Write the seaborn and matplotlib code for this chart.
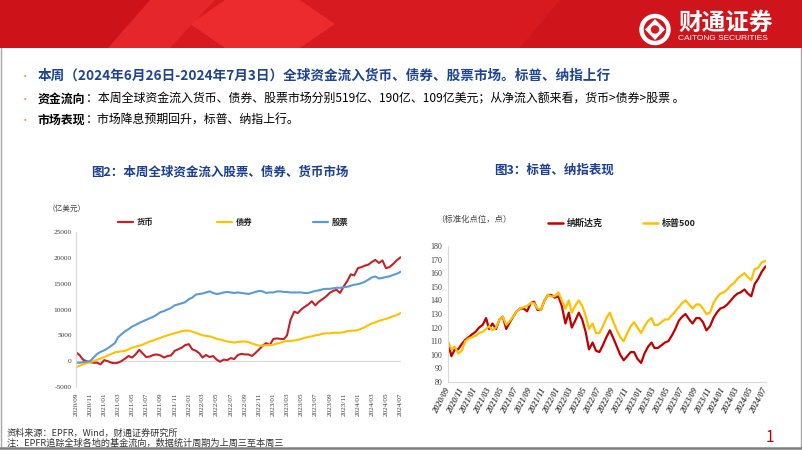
import numpy as np
import pandas as pd
import matplotlib
matplotlib.use("Agg")
import matplotlib.pyplot as plt
from matplotlib.patches import Polygon, Rectangle, Circle
import seaborn as sns

# ---------------- data ----------------
months = pd.period_range("2020-09", "2024-06", freq="M")
dates = [m.to_timestamp() + pd.Timedelta(days=d) for m in months for d in (0, 15)]
dates.append(pd.Timestamp("2024-07-03"))

flow_money = [1700, 1200, 300, 0, -200, -300, -300, -600, 200, 0, -300, -400,
              -300, 0, 500, 1000, 700, 1300, 2200, 1500, 800, 900, 1200, 1300,
              1100, 700, 1000, 1100, 2000, 2300, 2600, 3100, 3300, 2300, 2000, 1500,
              700, 1200, 800, 1000, 300, -100, 300, 200, 600, 400, 1200, 1400,
              1300, 1300, 1000, 1600, 2300, 3000, 3500, 3100, 4300, 4400, 4300, 4300,
              5000, 8000, 9600, 9300, 10000, 10500, 11000, 11600, 10800, 11500, 12000, 12500,
              13200, 13600, 13800, 13200, 14500, 15500, 16800, 16600, 18000, 18200, 18500, 18700,
              19200, 19600, 19000, 19500, 18000, 18200, 18800, 19500, 20100]
flow_bond = [-1200, -900, -600, -400, -200, 0, 300, 500, 800, 1100, 1400, 1700,
             1800, 1900, 2000, 2300, 2600, 2800, 3000, 3200, 3500, 3800, 4000, 4300,
             4500, 4800, 5000, 5200, 5400, 5600, 5800, 5900, 5900, 5700, 5500, 5200,
             5000, 4900, 4800, 4600, 4300, 4200, 4000, 3800, 3700, 3600, 3700, 3800,
             3800, 3700, 3400, 3200, 3000, 3000, 3100, 3100, 3200, 3400, 3600, 3800,
             3900, 3900, 4000, 4100, 4300, 4500, 4700, 4800, 5000, 5100, 5300, 5400,
             5400, 5500, 5500, 5500, 5600, 5800, 5900, 5900, 6000, 6300, 6600, 7000,
             7300, 7500, 7800, 8000, 8200, 8400, 8700, 8900, 9300]
flow_equity = [-300, -300, -200, -100, 0, 700, 1400, 1800, 2100, 2500, 3000, 3500,
               4600, 5200, 5800, 6200, 6700, 7000, 7400, 7700, 8000, 8300, 8600, 9000,
               9500, 9700, 10000, 10300, 10800, 11000, 11200, 11400, 12000, 12300, 12900, 13000,
               13100, 13300, 13500, 13200, 13000, 13100, 13300, 13400, 13300, 13200, 13300, 13200,
               13100, 13000, 13200, 13400, 13600, 13500, 13200, 13300, 13300, 13500, 13500, 13400,
               13400, 13300, 13300, 13300, 13300, 13200, 13200, 13400, 13600, 13700, 13900, 14000,
               14000, 14100, 14200, 14200, 14300, 14400, 14600, 14800, 14900, 15100, 15400, 15800,
               16200, 16400, 16000, 16100, 16300, 16400, 16700, 16900, 17300]

nasdaq = [109, 99, 104, 104, 108, 111, 113, 115, 117, 120, 122, 127,
          119, 123, 119, 126, 128, 119, 124, 128, 132, 134, 134, 132,
          138, 139, 133, 133, 140, 144, 144, 142, 143, 136, 123, 131,
          120, 125, 131, 126, 117, 104, 109, 103, 102, 107, 113, 118,
          112, 106, 100, 96, 99, 102, 102, 97, 94, 101, 106, 109,
          105, 105, 107, 109, 110, 114, 119, 125, 128, 130, 126, 123,
          127, 127, 124, 118, 121, 127, 131, 134, 135, 137, 140, 143,
          145, 146, 148, 145, 143, 152, 156, 161, 165]
sp500 = [110, 104, 106, 101, 103, 110, 112, 113, 114, 116, 117, 119,
         121, 118, 120, 126, 128, 122, 125, 128, 132, 134, 135, 136,
         138, 138, 134, 133, 140, 144, 143, 143, 146, 140, 134, 140,
         131, 136, 140, 136, 129, 119, 123, 116, 116, 121, 127, 131,
         124, 118, 113, 110, 116, 121, 124, 120, 116, 121, 125, 127,
         122, 122, 124, 126, 126, 129, 132, 135, 138, 140, 137, 134,
         137, 137, 134, 130, 131, 138, 142, 145, 146, 148, 151, 153,
         156, 158, 160, 157, 155, 163, 164, 168, 169]

flow_names = ["货币", "债券", "股票"]
index_names = ["纳斯达克", "标普500"]

tick_dates = pd.date_range("2020-09-01", "2024-07-01", freq="2MS")
tick_labels = [d.strftime("%Y/%m") for d in tick_dates]

df_flow = pd.DataFrame({
    "date": dates * 3,
    "value": flow_money + flow_bond + flow_equity,
    "series": [flow_names[0]] * len(dates) + [flow_names[1]] * len(dates) + [flow_names[2]] * len(dates),
})
df_idx = pd.DataFrame({
    "date": dates * 2,
    "value": nasdaq + sp500,
    "series": [index_names[0]] * len(dates) + [index_names[1]] * len(dates),
})

# ---------------- style ----------------
sns.set_theme(style="white")
plt.rcParams["font.family"] = ["Noto Sans CJK SC", "DejaVu Sans"]
plt.rcParams["axes.unicode_minus"] = False

RED_L = "#C42129"
RED_R = "#C00000"
YEL = "#FFC000"
BLU = "#5B9BD5"
GRID = "#D9D9D9"
TITLE_BLUE = "#1D4391"

W, H = 802, 451
fig = plt.figure(figsize=(W / 100, H / 100), dpi=100)

bg = fig.add_axes([0, 0, 1, 1], zorder=0)
bg.set_xlim(0, W)
bg.set_ylim(H, 0)
bg.axis("off")

# banner
bg.add_patch(Rectangle((0, 0), W, 48, color="#D71920", lw=0))
bg.add_patch(Polygon([(0, 0), (150, 0), (110, 48), (0, 48)], closed=True, color="#CE1219", lw=0))
bg.add_patch(Polygon([(150, 0), (215, 0), (170, 48), (108, 48)], closed=True, color="#E5262A", lw=0))
bg.add_patch(Polygon([(190, 24), (225, 0), (300, 0), (335, 24), (300, 48), (225, 48)], closed=True, color="#EC2B2E", lw=0))
bg.add_patch(Polygon([(560, 0), (W, 0), (W, 48), (520, 48)], closed=True, color="#CF141B", lw=0))
# logo
bg.add_patch(Circle((655, 29.5), 13.5, fill=False, ec="white", lw=3.2))
bg.add_patch(Polygon([(655, 19), (665, 29.5), (655, 40), (645, 29.5)], closed=True, color="white", lw=0))
bg.add_patch(Circle((655, 29.5), 4.2, color="#D71920", lw=0))
bg.text(678, 22.5, "财通证券", color="white", fontsize=17, fontweight="bold", va="center", ha="left")
bg.text(678, 38.5, "CAITONG SECURITIES", color="white", fontsize=6, va="center", ha="left",
        family=["Liberation Sans", "DejaVu Sans"])

# borders
bg.plot([1, 1], [48, 447], color="#A6A6A6", lw=1)
bg.plot([800.5, 800.5], [48, 447], color="#A6A6A6", lw=1)
bg.plot([0, W], [447.5, 447.5], color="#7F7F7F", lw=1.8)

# header text
for yy in (77, 100, 121):
    bg.text(25, yy, "•", color="#EE9A5E", fontsize=7.5, va="center", ha="center")
bg.text(38, 76, "本周（2024年6月26日-2024年7月3日）全球资金流入货币、债券、股票市场。标普、纳指上行",
        fontsize=9.8, fontweight="bold", color=TITLE_BLUE, va="center")
fs2 = 8.6
em = fs2 / 72 * 100
bg.text(38, 99, "资金流向", fontsize=fs2, fontweight="bold", color="black", va="center")
bg.text(38 + 4 * em, 99, "：本周全球资金流入货币、债券、股票市场分别519亿、190亿、109亿美元；从净流入额来看，货币>债券>股票 。",
        fontsize=fs2, color="black", va="center")
bg.text(38, 120, "市场表现", fontsize=fs2, fontweight="bold", color="black", va="center")
bg.text(38 + 4 * em, 120, "：市场降息预期回升，标普、纳指上行。", fontsize=fs2, color="black", va="center")

# section titles
bg.text(91, 172, "图2：本周全球资金流入股票、债券、货币市场", fontsize=9, fontweight="bold",
        color="#1B3F8E", va="center")
bg.text(494, 170, "图3：标普、纳指表现", fontsize=9, fontweight="bold", color="#1B3F8E", va="center")

# left chart labels / legend
bg.text(48, 209, "（亿美元）", fontsize=5.5, color="#404040", va="center")
for (x0, name, col) in [(118, flow_names[0], RED_L), (217, flow_names[1], YEL), (313, flow_names[2], BLU)]:
    bg.plot([x0, x0 + 15], [222, 222], color=col, lw=1.6)
    bg.text(x0 + 19, 222, name, fontsize=6, fontweight="bold", color="#222222", va="center")

# right chart labels / legend
bg.text(436, 219, "（标准化点位，点）", fontsize=6, color="#404040", va="center")
for (x0, name, col) in [(548, index_names[0], RED_R), (643, index_names[1], YEL)]:
    bg.plot([x0, x0 + 15], [223, 223], color=col, lw=1.8)
    bg.text(x0 + 19, 223, name, fontsize=6.5, fontweight="bold", color="#222222", va="center")

# footer
bg.text(7, 433, "资料来源：EPFR，Wind，财通证券研究所", fontsize=6.6, color="#333333", va="center")
bg.text(7, 443, "注：EPFR追踪全球各地的基金流向，数据统计周期为上周三至本周三", fontsize=6.6,
        color="#333333", va="center")
bg.text(770, 437, "1", fontsize=11, color=RED_R, va="center", ha="center")

xmin, xmax = pd.Timestamp("2020-09-01"), pd.Timestamp("2024-07-05")

# ---------------- left chart ----------------
ax1 = fig.add_axes([76 / W, 1 - 387 / H, (401 - 76) / W, 155 / H], zorder=2)
ax1.patch.set_alpha(0)
ax1.axhline(0, color=GRID, lw=0.8, zorder=0)
sns.lineplot(data=df_flow, x="date", y="value", hue="series", hue_order=flow_names,
             palette={flow_names[0]: RED_L, flow_names[1]: YEL, flow_names[2]: BLU},
             linewidth=1.5, legend=False, ax=ax1)
ax1.set_ylim(-5000, 25000)
ax1.set_xlim(xmin, xmax)
ax1.set_yticks(range(-5000, 25001, 5000))
ax1.set_yticklabels([str(v) for v in range(-5000, 25001, 5000)], fontsize=5.3,
                    family="Liberation Serif", color="#404040")
ax1.set_xticks(tick_dates)
ax1.set_xticklabels(tick_labels, rotation=90, fontsize=5.2, family="Liberation Serif", color="#404040")
ax1.tick_params(axis="both", length=0)
ax1.tick_params(axis="y", pad=3)
ax1.tick_params(axis="x", pad=4)
for s in ["top", "right", "bottom"]:
    ax1.spines[s].set_visible(False)
ax1.spines["left"].set_color(GRID)
ax1.spines["left"].set_linewidth(0.8)
ax1.set_xlabel("")
ax1.set_ylabel("")

# ---------------- right chart ----------------
ax2 = fig.add_axes([448 / W, 1 - 382 / H, (766 - 448) / W, 136 / H], zorder=2)
ax2.patch.set_alpha(0)
sns.lineplot(data=df_idx, x="date", y="value", hue="series", hue_order=index_names,
             palette={index_names[0]: RED_R, index_names[1]: YEL},
             linewidth=1.6, legend=False, ax=ax2)
ax2.set_ylim(80, 180)
ax2.set_xlim(xmin, xmax)
ax2.set_yticks(range(80, 181, 10))
ax2.set_yticklabels([str(v) for v in range(80, 181, 10)], fontsize=5.8,
                    family="Liberation Serif", color="#404040")
ax2.set_xticks(tick_dates)
ax2.set_xticklabels(tick_labels, rotation=62, ha="right", va="center", rotation_mode="anchor",
                    fontsize=6, family="Liberation Serif", fontstyle="italic", fontweight="bold",
                    color="#404040")
ax2.tick_params(axis="both", length=0)
ax2.tick_params(axis="y", pad=4)
ax2.tick_params(axis="x", pad=5)
for s in ["top", "right"]:
    ax2.spines[s].set_visible(False)
for s in ["left", "bottom"]:
    ax2.spines[s].set_color(GRID)
    ax2.spines[s].set_linewidth(0.8)
ax2.set_xlabel("")
ax2.set_ylabel("")

fig.savefig("out.png", dpi=100)
